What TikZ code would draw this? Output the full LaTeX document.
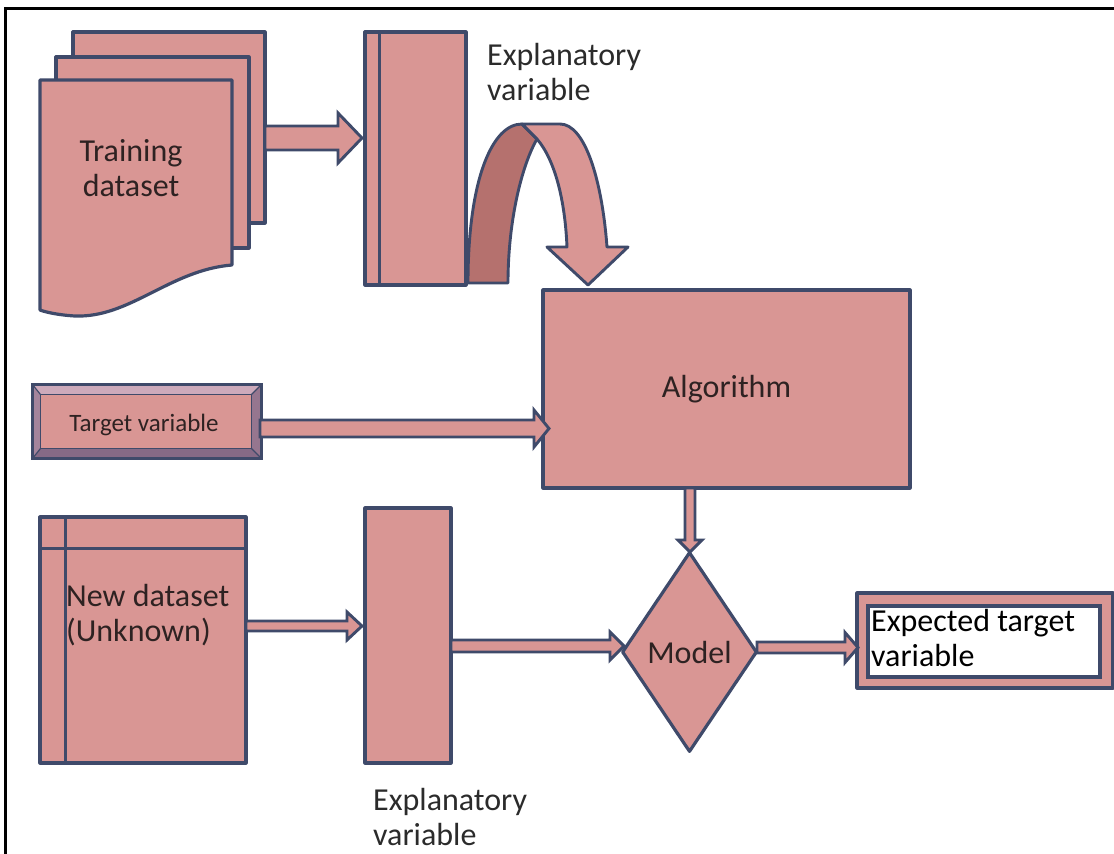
\documentclass[tikz,border=0pt]{standalone}
\usepackage{fontspec}
\setmainfont{Carlito}
\usetikzlibrary{calc,shapes.geometric}
\definecolor{pk}{HTML}{D99694}
\definecolor{pkd}{HTML}{B5716E}
\definecolor{ed}{HTML}{3F4A6A}
\definecolor{tx}{HTML}{2E2222}
\definecolor{tg}{HTML}{2B2B2B}
\definecolor{bvtop}{HTML}{CDAABB}
\definecolor{bvleft}{HTML}{A4849C}
\definecolor{bvbot}{HTML}{866A86}
\definecolor{bvright}{HTML}{96768F}
\tikzset{
  shp/.style={draw=ed, fill=pk, line width=3.2pt, line join=round},
  box/.style={shp, rectangle, inner sep=0pt},
  edgeln/.style={draw=ed, line width=3.2pt},
  lbl/.style={font=\fontsize{32}{35}\selectfont, text=tg, align=left, inner sep=0pt},
  intext/.style={font=\fontsize{32}{35}\selectfont, text=tx, align=center, inner sep=0pt},
  arr/.style={draw=ed, fill=pk, line width=2.9pt, line join=miter},
}
\newcommand\blockR[5]{%
  \draw[arr] ($(#1)+(0,-#3)$) -- ($(#2)+(-#5,-#3)$) -- ($(#2)+(-#5,-#4)$) -- (#2)
    -- ($(#2)+(-#5,#4)$) -- ($(#2)+(-#5,#3)$) -- ($(#1)+(0,#3)$) -- cycle;}
\newcommand\blockD[5]{%
  \draw[arr] ($(#1)+(-#3,0)$) -- ($(#2)+(-#3,-#5)$) -- ($(#2)+(-#4,-#5)$) -- (#2)
    -- ($(#2)+(#4,-#5)$) -- ($(#2)+(#3,-#5)$) -- ($(#1)+(#3,0)$) -- cycle;}
\begin{document}
\begin{tikzpicture}[x=1pt,y=-1pt]
\useasboundingbox (0,0) rectangle (1114,854);
% frame
\draw[black, line width=3pt] (5,854) -- (5,8) -- (1114,8);

% training dataset stack
\node[box, minimum width=192pt, minimum height=191pt] (back) at (169,127.5) {};
\node[box, minimum width=193pt, minimum height=191pt] (mid) at (152.5,152.5) {};
\draw[shp] (40,80) -- (232,80) -- (232,265)
  .. controls (170,270) and (130,318) .. (75,316)
  .. controls (58,315) and (45,312) .. (40,310) -- cycle;
\node[intext] (train) at (131,168) {Training\\dataset};

% explanatory column (top)
\node[box, minimum width=101pt, minimum height=253pt] (expl1) at (415.5,158.5) {};
\draw[edgeln] ($(expl1.north west)+(16,0)$) -- ($(expl1.south west)+(16,0)$);
\node[lbl, anchor=west] (expl1lbl) at (487,72) {Explanatory\\variable};

% arrow training -> explanatory
\coordinate (a1s) at (265,138);
\coordinate (a1e) at (362,138);
\blockR{a1s}{a1e}{12}{25}{24}

% curved arrow
\fill[pkd] (468,283) .. controls (468,180) and (492,124) .. (522,124)
  -- (537,139) .. controls (522,165) and (508,220) .. (508,283) -- cycle;
\draw[draw=ed, line width=2.9pt, line join=round] (468,283) .. controls (468,180) and (492,124) .. (522,124)
  -- (537,139) .. controls (522,165) and (508,220) .. (508,283) -- cycle;
\draw[arr, line join=round] (522,124) -- (560,124) .. controls (585,124) and (602,180) .. (607,247)
  -- (628,247) -- (588,285) -- (547,247) -- (567,247)
  .. controls (565,200) and (555,160) .. (537,139) -- cycle;

% algorithm
\node[box, intext, minimum width=367pt, minimum height=198pt] (algo) at (726.5,389) {Algorithm};

% target variable (bevel)
\node[box, minimum width=226pt, minimum height=71pt] (tgt) at (147,421.5) {};
\fill[bvtop] (tgt.north west) -- (tgt.north east) -- ($(tgt.north east)+(-10,10)$) -- ($(tgt.north west)+(8,10)$) -- cycle;
\fill[bvleft] (tgt.north west) -- ($(tgt.north west)+(8,10)$) -- ($(tgt.south west)+(8,-10)$) -- (tgt.south west) -- cycle;
\fill[bvbot] (tgt.south west) -- ($(tgt.south west)+(8,-10)$) -- ($(tgt.south east)+(-10,-10)$) -- (tgt.south east) -- cycle;
\fill[bvright] (tgt.north east) -- ($(tgt.north east)+(-10,10)$) -- ($(tgt.south east)+(-10,-10)$) -- (tgt.south east) -- cycle;
\draw[draw=ed, line width=1.4pt] ($(tgt.north west)+(8,10)$) rectangle ($(tgt.south east)+(-10,-10)$);
\draw[draw=ed, line width=1.2pt] (tgt.north west) -- ($(tgt.north west)+(8,10)$)
  (tgt.north east) -- ($(tgt.north east)+(-10,10)$)
  (tgt.south west) -- ($(tgt.south west)+(8,-10)$)
  (tgt.south east) -- ($(tgt.south east)+(-10,-10)$);
\draw[draw=ed, line width=3.2pt] (tgt.north west) rectangle (tgt.south east);
\node[font=\fontsize{25}{28}\selectfont, text=tx, inner sep=0pt] (tgtlbl) at (144,425) {Target variable};

% arrow target -> algorithm
\coordinate (a2s) at (260,428.5);
\coordinate (a2e) at (549,428.5);
\blockR{a2s}{a2e}{8.5}{18.5}{15}

% model
\node[shp, diamond, intext, minimum width=135pt, minimum height=200pt, inner sep=0pt] (model) at (689.5,652) {Model};

% arrow algorithm -> model
\coordinate (a3s) at (690,488);
\coordinate (a3e) at (690,552);
\blockD{a3s}{a3e}{5}{12}{12}

% new dataset
\node[box, minimum width=206pt, minimum height=246pt] (newds) at (143,640) {};
\draw[edgeln] ($(newds.north west)+(0,33)$) -- ($(newds.north east)+(0,33)$);
\draw[edgeln] ($(newds.north west)+(27,0)$) -- ($(newds.south west)+(27,0)$);
\node[lbl, text=tx, anchor=west] (newdslbl) at (66,615) {New dataset\\(Unknown)};

% explanatory column (bottom)
\node[box, minimum width=86pt, minimum height=255pt] (expl2) at (408,635.5) {};
\node[lbl, anchor=west] (expl2lbl) at (373,817) {Explanatory\\variable};

\coordinate (a4s) at (246,626);
\coordinate (a4e) at (362,626);
\blockR{a4s}{a4e}{5}{14}{15}

\coordinate (a5s) at (451,646);
\coordinate (a5e) at (624,646);
\blockR{a5s}{a5e}{6}{14}{14}

% expected target variable
\node[box, minimum width=256pt, minimum height=95pt] (exp) at (985,640.5) {};
\node[draw=ed, fill=white, line width=3.2pt, minimum width=232pt, minimum height=71pt, inner sep=0pt] (expin) at (984,641.5) {};
\node[lbl, text=black, anchor=west] (explbl) at (871,638) {Expected target\\variable};

\coordinate (a6s) at (757,647.5);
\coordinate (a6e) at (858,647.5);
\blockR{a6s}{a6e}{5.5}{15}{13}
\end{tikzpicture}
\end{document}
